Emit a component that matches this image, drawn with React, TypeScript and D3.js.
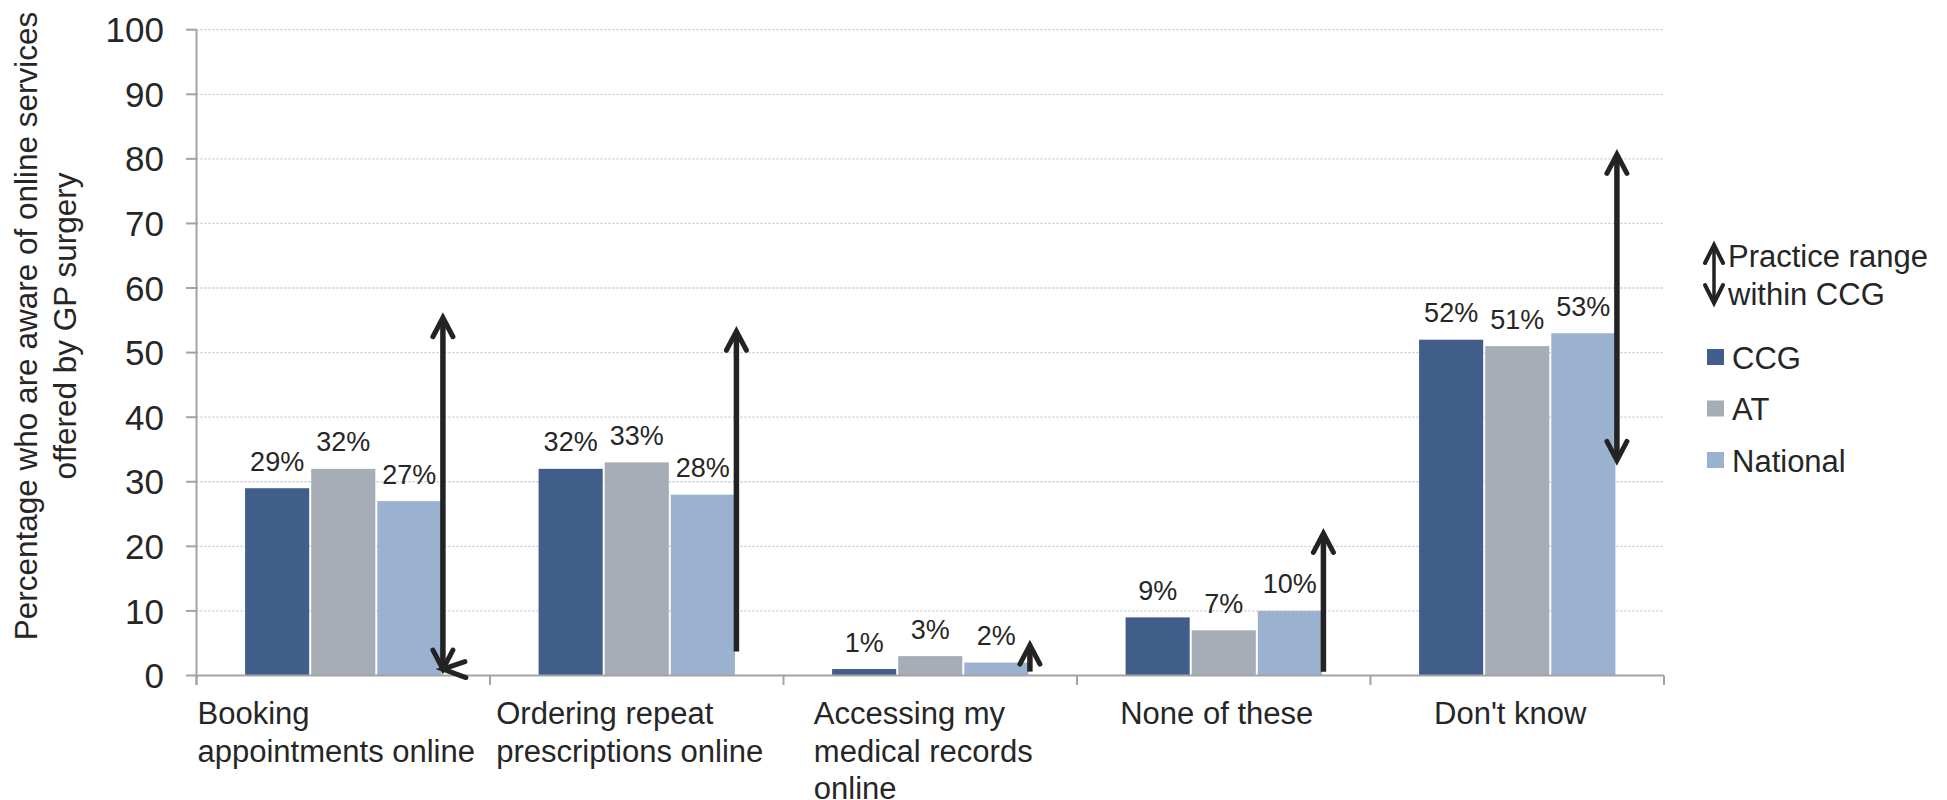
import React, { useEffect, useRef } from "react";
import * as d3 from "d3";

// Survey categories (each label split into its display lines)
const categories = [
  "Booking appointments online",
  "Ordering repeat prescriptions online",
  "Accessing my medical records online",
  "None of these",
  "Don't know",
];
const categoryLines = [
  ["Booking", "appointments online"],
  ["Ordering repeat", "prescriptions online"],
  ["Accessing my", "medical records", "online"],
  ["None of these"],
  ["Don't know"],
];

const seriesNames = ["CCG", "AT", "National"];
const ccgValues = [29, 32, 1, 9, 52];
const atValues = [32, 33, 3, 7, 51];
const nationalValues = [27, 28, 2, 10, 53];

// Practice range within CCG (low / high ends of the arrows)
const rangeLow = [1, 3.7, 0.6, 0.6, 33.3];
const rangeHigh = [55.4, 53.3, 4.7, 22, 80.7];
const headAtLow = [true, false, false, false, true];
const headAtHigh = [true, true, true, true, true];

const yTicks = [0, 10, 20, 30, 40, 50, 60, 70, 80, 90, 100];

const seriesColors = ["#405e89", "#a6adb6", "#9bb1d0"];
const FONT = "'Liberation Sans', Arial, Helvetica, sans-serif";
const TEXT = "#262626";
const ARROW = "#232323";
const AXIS = "#a3a3a3";

export default function App() {
  const ref = useRef<SVGSVGElement | null>(null);

  useEffect(() => {
    const svg = d3.select(ref.current);
    svg.selectAll("*").remove();

    const left = 196.5;
    const right = 1664;
    const y = d3.scaleLinear().domain([0, 100]).range([675.5, 29.7]);
    const x0 = d3.scaleBand<string>().domain(categories).range([left, right]).padding(0);
    const x1 = d3
      .scaleBand<string>()
      .domain(seriesNames)
      .range([0, x0.bandwidth()])
      .paddingInner(0.0303)
      .paddingOuter(0.735);

    const values = [ccgValues, atValues, nationalValues];

    // gridlines
    svg
      .append("g")
      .selectAll("line")
      .data(yTicks.filter((t) => t > 0))
      .join("line")
      .attr("x1", left)
      .attr("x2", right)
      .attr("y1", (d) => y(d))
      .attr("y2", (d) => y(d))
      .attr("stroke", "#c3c8cf")
      .attr("stroke-width", 1.3)
      .attr("stroke-dasharray", "2,2");

    // y axis line and ticks
    svg
      .append("line")
      .attr("x1", left)
      .attr("x2", left)
      .attr("y1", y(100))
      .attr("y2", y(0) + 9.5)
      .attr("stroke", AXIS)
      .attr("stroke-width", 2);
    svg
      .append("g")
      .selectAll("line")
      .data(yTicks)
      .join("line")
      .attr("x1", left - 10.5)
      .attr("x2", left)
      .attr("y1", (d) => y(d))
      .attr("y2", (d) => y(d))
      .attr("stroke", AXIS)
      .attr("stroke-width", 2);
    svg
      .append("g")
      .selectAll("text")
      .data(yTicks)
      .join("text")
      .attr("x", 164)
      .attr("y", (d) => y(d))
      .attr("dy", "0.36em")
      .attr("text-anchor", "end")
      .attr("font-family", FONT)
      .attr("font-size", 35)
      .attr("fill", TEXT)
      .text((d) => String(d));

    // bars
    seriesNames.forEach((s, si) => {
      svg
        .append("g")
        .selectAll("rect")
        .data(categories)
        .join("rect")
        .attr("x", (c) => (x0(c) as number) + (x1(s) as number))
        .attr("width", x1.bandwidth())
        .attr("y", (c, i) => y(values[si][i]))
        .attr("height", (c, i) => y(0) - y(values[si][i]))
        .attr("fill", seriesColors[si]);
      svg
        .append("g")
        .selectAll("text")
        .data(categories)
        .join("text")
        .attr("x", (c) => (x0(c) as number) + (x1(s) as number) + x1.bandwidth() / 2)
        .attr("y", (c, i) => y(values[si][i]) - 17.5)
        .attr("text-anchor", "middle")
        .attr("font-family", FONT)
        .attr("font-size", 27)
        .attr("fill", TEXT)
        .text((c, i) => `${values[si][i]}%`);
    });

    // x axis line and category boundary ticks
    svg
      .append("line")
      .attr("x1", left)
      .attr("x2", right)
      .attr("y1", y(0))
      .attr("y2", y(0))
      .attr("stroke", AXIS)
      .attr("stroke-width", 2);
    const bounds = categories.map((c) => x0(c) as number).concat([right]);
    svg
      .append("g")
      .selectAll("line")
      .data(bounds)
      .join("line")
      .attr("x1", (d) => d)
      .attr("x2", (d) => d)
      .attr("y1", y(0))
      .attr("y2", y(0) + 9.5)
      .attr("stroke", AXIS)
      .attr("stroke-width", 2);

    // category labels: lines left-aligned, block centred in the band
    categories.forEach((c, i) => {
      const g = svg.append("g");
      const t = g
        .append("text")
        .attr("font-family", FONT)
        .attr("font-size", 31)
        .attr("fill", TEXT);
      categoryLines[i].forEach((line, li) => {
        t.append("tspan")
          .attr("x", 0)
          .attr("y", 724 + li * 37.7)
          .text(line);
      });
      let w = 0;
      t.selectAll<SVGTSpanElement, unknown>("tspan").each(function () {
        w = Math.max(w, this.getComputedTextLength());
      });
      const cx = (x0(c) as number) + x0.bandwidth() / 2;
      g.attr("transform", `translate(${cx - w / 2 - 7},0)`);
    });

    // double/single headed range arrows
    const chevron = (tipX: number, tipY: number, dx: number, dy: number, back = 19, half = 10) => {
      // dx,dy: unit direction the head points to
      const bx = tipX - dx * back;
      const by = tipY - dy * back;
      const px = -dy * half;
      const py = dx * half;
      return `M${bx + px},${by + py}L${tipX},${tipY}L${bx - px},${by - py}`;
    };
    const arrows = svg.append("g");
    categories.forEach((c, i) => {
      const ax = (x0(c) as number) + (x1("National") as number) + x1.bandwidth() + 1.5;
      const yTop = y(rangeHigh[i]);
      const yBot = y(rangeLow[i]);
      arrows
        .append("line")
        .attr("x1", ax)
        .attr("x2", ax)
        .attr("y1", yTop + 2)
        .attr("y2", yBot - (headAtLow[i] ? 2 : 0))
        .attr("stroke", ARROW)
        .attr("stroke-width", 5.5);
      if (headAtHigh[i]) {
        arrows
          .append("path")
          .attr("d", chevron(ax, yTop, 0, -1))
          .attr("fill", "none")
          .attr("stroke", ARROW)
          .attr("stroke-width", 5)
          .attr("stroke-linecap", "round");
      }
      if (headAtLow[i]) {
        arrows
          .append("path")
          .attr("d", chevron(ax, yBot, 0, 1))
          .attr("fill", "none")
          .attr("stroke", ARROW)
          .attr("stroke-width", 5)
          .attr("stroke-linecap", "round");
      }
      if (i === 0) {
        // extra left-pointing head at the foot of the first arrow
        arrows
          .append("path")
          .attr("d", `M${ax + 22},${yBot - 7.5}L${ax},${yBot}L${ax + 23},${yBot + 8.5}`)
          .attr("fill", "none")
          .attr("stroke", ARROW)
          .attr("stroke-width", 5)
          .attr("stroke-linecap", "round");
      }
    });

    // y axis title
    const titleLines = ["Percentage who are aware of online services", "offered by GP surgery"];
    titleLines.forEach((line, li) => {
      svg
        .append("text")
        .attr("transform", `translate(${36.5 + li * 39},326) rotate(-90)`)
        .attr("text-anchor", "middle")
        .attr("font-family", FONT)
        .attr("font-size", 31.5)
        .attr("fill", TEXT)
        .text(line);
    });

    // legend
    const lg = svg.append("g");
    const lx = 1714;
    lg.append("line")
      .attr("x1", lx)
      .attr("x2", lx)
      .attr("y1", 247)
      .attr("y2", 301)
      .attr("stroke", ARROW)
      .attr("stroke-width", 3.5);
    lg.append("path")
      .attr("d", chevron(lx, 245, 0, -1, 18, 9))
      .attr("fill", "none")
      .attr("stroke", ARROW)
      .attr("stroke-width", 4)
      .attr("stroke-linecap", "round");
    lg.append("path")
      .attr("d", chevron(lx, 303, 0, 1, 18, 9))
      .attr("fill", "none")
      .attr("stroke", ARROW)
      .attr("stroke-width", 4)
      .attr("stroke-linecap", "round");
    ["Practice range", "within CCG"].forEach((line, li) => {
      lg.append("text")
        .attr("x", 1728)
        .attr("y", 267 + li * 38)
        .attr("font-family", FONT)
        .attr("font-size", 31)
        .attr("fill", TEXT)
        .text(line);
    });
    seriesNames.forEach((s, si) => {
      const top = 349 + si * 51.5;
      lg.append("rect")
        .attr("x", 1707)
        .attr("y", top)
        .attr("width", 17)
        .attr("height", 16)
        .attr("fill", seriesColors[si]);
      lg.append("text")
        .attr("x", 1732)
        .attr("y", top + 19.5)
        .attr("font-family", FONT)
        .attr("font-size", 31)
        .attr("fill", TEXT)
        .text(s);
    });
  }, []);

  return (
    <svg
      ref={ref}
      width={1947}
      height={800}
      style={{ position: "absolute", left: 0, top: 0, background: "#fff" }}
    />
  );
}
